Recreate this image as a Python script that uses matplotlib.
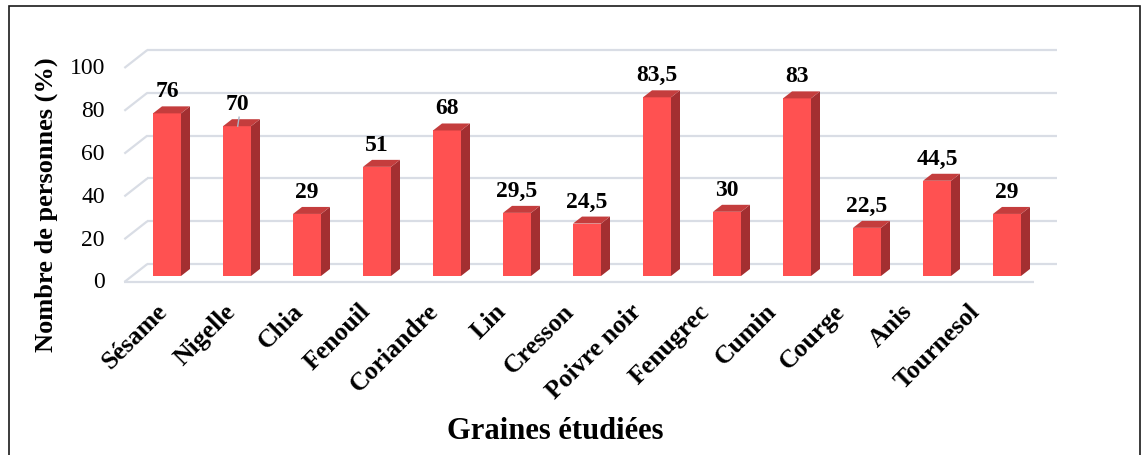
import matplotlib

matplotlib.use("Agg")
import matplotlib.pyplot as plt
from matplotlib.patches import Polygon, Rectangle

plt.rcParams["font.family"] = ["Liberation Serif", "DejaVu Serif"]

graines = ["Sésame", "Nigelle", "Chia", "Fenouil", "Coriandre", "Lin", "Cresson",
           "Poivre noir", "Fenugrec", "Cumin", "Courge", "Anis", "Tournesol"]
pourcentages = [76, 70, 29, 51, 68, 29.5, 24.5, 83.5, 30, 83, 22.5, 44.5, 29]
graduations = [0, 20, 40, 60, 80, 100]

W, H = 1141, 456
# pseudo-3D box, measured in pixels
X0, STEP = 167, 70      # centre of first column, spacing between columns
Y0, SCALE = 277, 2.14   # column baseline from the top, pixels per percent
DX, DY = 23 / STEP, 18 / SCALE     # full depth of the box in data units
BDX, BDY = 9 / STEP, 7 / SCALE     # depth of one column
BAR_W = 28 / STEP

FRONT = "#ff5151"
TOP = "#c43d3d"
SIDE = "#a32f31"
GRID = "#d9dde5"

fig = plt.figure(figsize=(W / 100, H / 100), dpi=100)
ax = fig.add_axes([0, 0, 1, 1])
ax.set_xlim(-X0 / STEP, (W - X0) / STEP)
ax.set_ylim((Y0 - H) / SCALE, Y0 / SCALE)
ax.axis("off")

n = len(graines)
left, right = -0.5, n - 0.5

# walls: left side wall diagonals, back wall lines, front floor edge
for t in graduations:
    ax.plot([left - DX / 3, left + 2 * DX / 3], [t - DY / 3, t + 2 * DY / 3],
            color=GRID, lw=1.6, zorder=1, solid_capstyle="butt")
    ax.plot([left + 2 * DX / 3, right + 2 * DX / 3], [t + 2 * DY / 3, t + 2 * DY / 3],
            color=GRID, lw=1.6, zorder=1, solid_capstyle="butt")
ax.plot([left - DX / 3, right - DX / 3], [-DY / 3, -DY / 3],
        color=GRID, lw=1.6, zorder=1, solid_capstyle="butt")

xs = list(range(n))
ax.bar(xs, pourcentages, width=BAR_W, color=FRONT, zorder=3, linewidth=0)
for x, v in zip(xs, pourcentages):
    r = x + BAR_W / 2
    l = x - BAR_W / 2
    ax.add_patch(Polygon([(r, 0), (r + BDX, BDY), (r + BDX, v + BDY), (r, v)],
                         closed=True, fc=SIDE, ec="none", zorder=3))
    ax.add_patch(Polygon([(l, v), (r, v), (r + BDX, v + BDY), (l + BDX, v + BDY)],
                         closed=True, fc=TOP, ec="none", zorder=3))
    txt = f"{v:g}".replace(".", ",")
    ax.text(x, v + 17 / SCALE, txt, ha="center", va="baseline",
            fontsize=17, fontweight="bold", color="black", zorder=4)

# leader line on the "70" label
i70 = pourcentages.index(70)
ax.plot([i70 + 0.01, i70 + 0.03], [70, 70 + 9 / SCALE], color="#a9b7c8", lw=1, zorder=4)

# value axis labels on the front plane
for t in graduations:
    ax.text((105 - X0) / STEP, t - DY / 3, str(t), ha="right", va="center",
            fontsize=17, color="black")

# category labels, slanted
for x, name in zip(xs, graines):
    ax.text(x + (-3 - 2.3 * x) / STEP, (Y0 - 308) / SCALE, name, rotation=45,
            rotation_mode="anchor", ha="right", va="center",
            fontsize=18.5, fontweight="bold", color="black")

fig.text(46 / W, 1 - 205 / H, "Nombre de personnes (%)", rotation=90,
         ha="center", va="center", fontsize=19, fontweight="bold")
fig.text(555 / W, 1 - 432 / H, "Graines étudiées", ha="center", va="center",
         fontsize=22, fontweight="bold")

fig.add_artist(Rectangle((8.5 / W, -0.02), (1139.5 - 8.5) / W, (H - 6.5) / H + 0.02,
                         transform=fig.transFigure, fill=False, ec="#1a1a1a", lw=1.2))

fig.savefig("out.png", dpi=100, facecolor="white")
